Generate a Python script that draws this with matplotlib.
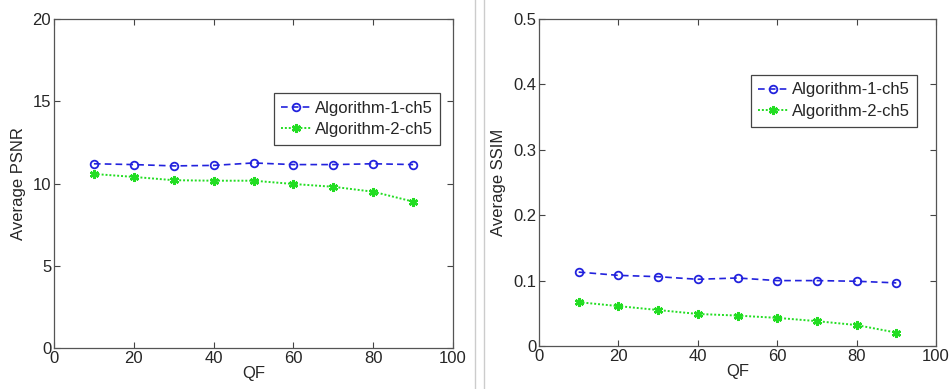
import matplotlib
matplotlib.use("Agg")
import matplotlib.pyplot as plt
from matplotlib.lines import Line2D

plt.rcParams['font.family'] = ['Liberation Sans', 'DejaVu Sans']

qf = [10, 20, 30, 40, 50, 60, 70, 80, 90]
psnr_alg1 = [11.2, 11.15, 11.07, 11.1, 11.25, 11.15, 11.15, 11.2, 11.15]
psnr_alg2 = [10.58, 10.4, 10.2, 10.17, 10.17, 9.97, 9.8, 9.5, 8.9]
ssim_alg1 = [0.113, 0.108, 0.106, 0.102, 0.104, 0.100, 0.100, 0.099, 0.0965]
ssim_alg2 = [0.067, 0.061, 0.055, 0.049, 0.0465, 0.043, 0.038, 0.032, 0.0205]
labels = ['Algorithm-1-ch5', 'Algorithm-2-ch5']

W, H = 952, 389
TXT = '#262626'
FS = 12

fig = plt.figure(figsize=(W / 100, H / 100), dpi=100)


def px_axes(x0, y0, x1, y1):
    return fig.add_axes([x0 / W, (H - y1) / H, (x1 - x0) / W, (y1 - y0) / H])


def style(ax, ylabel, yticks, ylim):
    ax.set_xlim(0, 100)
    ax.set_ylim(*ylim)
    ax.set_xticks([0, 20, 40, 60, 80, 100])
    ax.set_yticks(yticks)
    ax.tick_params(direction='in', top=True, right=True, length=4,
                   width=0.8, colors='#444444', labelcolor=TXT,
                   labelsize=FS, pad=2)
    for s in ax.spines.values():
        s.set_color('#555555')
        s.set_linewidth(0.9)
    ax.set_xlabel('QF', fontsize=FS, color=TXT, labelpad=0)
    ax.set_ylabel(ylabel, fontsize=FS, color=TXT, labelpad=5)


def draw(ax, a1, a2, anchor):
    ax.plot(qf, a1, linestyle=(0, (4, 2.5)), color='#2222dd', linewidth=1.2,
            marker='o', markersize=5.5, markerfacecolor='none',
            markeredgecolor='#2222dd', markeredgewidth=1.3, label=labels[0])
    ax.plot(qf, a2, linestyle=(0, (1, 1)), color='#22dd22', linewidth=1.4,
            marker=(6, 2, 0), markersize=6.5,
            markeredgecolor='#22dd22', markeredgewidth=1.8, label=labels[1])
    leg = ax.legend(loc='upper left', bbox_to_anchor=anchor,
                    borderaxespad=0, fancybox=False, framealpha=1,
                    edgecolor='#444444', fontsize=FS, handlelength=1.8,
                    handletextpad=0.2, borderpad=0.45, labelspacing=0.4,
                    labelcolor=TXT)
    leg.get_frame().set_linewidth(0.9)


ax1 = px_axes(54, 19, 453, 348)
draw(ax1, psnr_alg1, psnr_alg2, (0.551, 0.775))
style(ax1, 'Average PSNR', [0, 5, 10, 15, 20], (0, 20))

ax2 = px_axes(539, 19, 936, 346)
draw(ax2, ssim_alg1, ssim_alg2, (0.534, 0.829))
style(ax2, 'Average SSIM', [0, 0.1, 0.2, 0.3, 0.4, 0.5], (0, 0.5))
ax2.set_yticklabels(['0', '0.1', '0.2', '0.3', '0.4', '0.5'])

# panel separators
for xp in (474.5, 483.5):
    fig.add_artist(Line2D([xp / W, xp / W], [0, 1], color='#cccccc',
                          linewidth=1.0, transform=fig.transFigure))

fig.savefig('out.png', dpi=100, facecolor='white')
